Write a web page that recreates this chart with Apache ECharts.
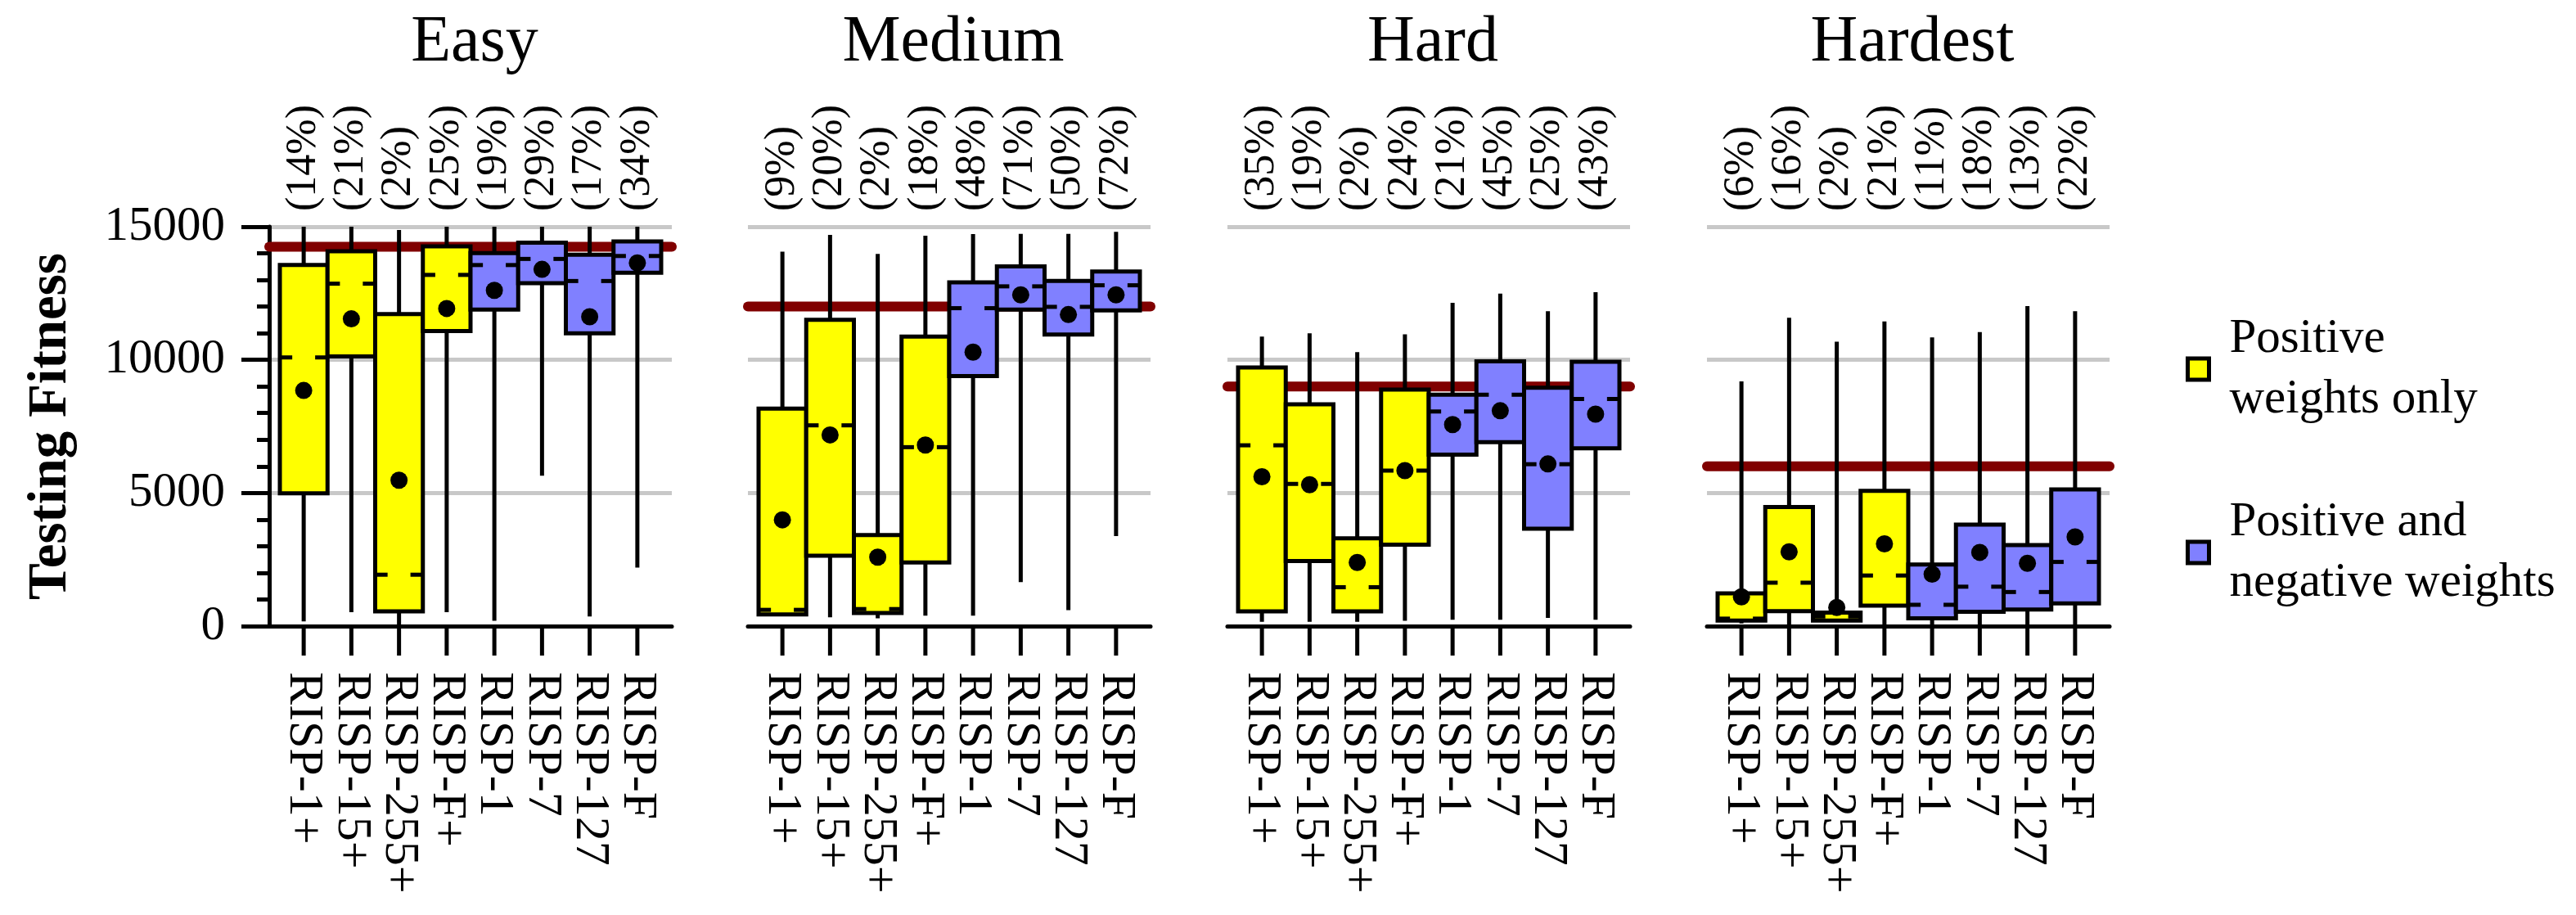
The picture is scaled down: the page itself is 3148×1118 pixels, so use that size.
<!DOCTYPE html>
<html>
<head>
<meta charset="utf-8">
<script src="https://cdn.jsdelivr.net/npm/echarts@6/dist/echarts.min.js"></script>
<style>html,body{margin:0;padding:0;background:#fff}#chart{width:3148px;height:1118px}</style>
</head>
<body>
<div id="chart"></div>
<script>
const panelNames = ['Easy', 'Medium', 'Hard', 'Hardest'];
const categories = ['RISP-1+', 'RISP-15+', 'RISP-255+', 'RISP-F+', 'RISP-1', 'RISP-7', 'RISP-127', 'RISP-F'];
const yTickValues = [0, 5000, 10000, 15000];
const seriesNames = ['Positive weights only', 'Positive and negative weights'];
const legendLabels = ['Positive\nweights only', 'Positive and\nnegative weights'];

const easyMin    = [180, 520, 0, 520, 200, 5650, 360, 2200];
const easyQ1     = [4990, 10130, 550, 11080, 11890, 12880, 11000, 13270];
const easyMedian = [10090, 12860, 1930, 13190, 13560, 13790, 12960, 13900];
const easyQ3     = [13560, 14080, 11720, 14260, 14010, 14400, 13950, 14450];
const easyMax    = [15000, 15000, 14880, 15000, 15000, 15000, 15000, 15000];
const easyMean   = [8850, 11540, 5480, 11930, 12610, 13400, 11620, 13640];
const easyPct    = [14, 21, 2, 25, 19, 29, 17, 34];
const easyBest   = 14250;

const mediumMin    = [420, 330, 290, 390, 390, 1650, 600, 3380];
const mediumQ1     = [440, 2640, 490, 2390, 9390, 11890, 10950, 11860];
const mediumMedian = [610, 7540, 640, 6720, 11940, 12760, 11990, 12800];
const mediumQ3     = [8170, 11500, 3420, 10870, 12910, 13510, 12960, 13320];
const mediumMax    = [14060, 14690, 13980, 14660, 14720, 14730, 14730, 14810];
const mediumMean   = [3990, 7180, 2590, 6800, 10290, 12440, 11700, 12440];
const mediumPct    = [9, 20, 2, 18, 48, 71, 50, 72];
const mediumBest   = 12000;

const hardMin    = [160, 160, 160, 200, 240, 240, 310, 240];
const hardQ1     = [550, 2440, 550, 3060, 6440, 6910, 3660, 6680];
const hardMedian = [6790, 5340, 1460, 5840, 8060, 8690, 6080, 8530];
const hardQ3     = [9710, 8330, 3300, 8880, 8690, 9940, 8950, 9930];
const hardMax    = [10870, 11000, 10290, 10960, 12140, 12490, 11830, 12540];
const hardMean   = [5610, 5310, 2390, 5840, 7570, 8090, 6090, 7960];
const hardPct    = [35, 19, 2, 24, 21, 45, 25, 43];
const hardBest   = 9000;

const hardestMin    = [100, 50, 150, 50, 50, 50, 50, 50];
const hardestQ1     = [210, 560, 210, 770, 290, 540, 620, 850];
const hardestMedian = [280, 1630, 360, 1900, 800, 1480, 1280, 2410];
const hardestQ3     = [1230, 4470, 510, 5080, 2310, 3810, 3040, 5130];
const hardestMax    = [9190, 11580, 10680, 11440, 10840, 11040, 12020, 11830];
const hardestMean   = [1100, 2790, 700, 3090, 1950, 2770, 2360, 3350];
const hardestPct    = [6, 16, 2, 21, 11, 18, 13, 22];
const hardestBest   = 6000;

const panels = [
  {min: easyMin, q1: easyQ1, med: easyMedian, q3: easyQ3, max: easyMax, mean: easyMean, pct: easyPct, best: easyBest},
  {min: mediumMin, q1: mediumQ1, med: mediumMedian, q3: mediumQ3, max: mediumMax, mean: mediumMean, pct: mediumPct, best: mediumBest},
  {min: hardMin, q1: hardQ1, med: hardMedian, q3: hardQ3, max: hardMax, mean: hardMean, pct: hardPct, best: hardBest},
  {min: hardestMin, q1: hardestQ1, med: hardestMedian, q3: hardestQ3, max: hardestMax, mean: hardestMean, pct: hardestPct, best: hardestBest}
];

const FONT = "'Liberation Serif', 'DejaVu Serif', serif";
const gridLefts = [329, 914, 1500, 2086];
const gridWidth = 492;
const innerPad = 13;
const gridTop = 277;
const gridHeight = 488;
const colors = ['#ffff00', '#8080ff'];
const TICK_LEN = 36;
const N = panels.length;
const yMin = yTickValues[0], yMax = yTickValues[yTickValues.length - 1];
// the inner (box) grid reaches TICK_LEN px below the plot so the category ticks lie inside it
const innerYMin = yMin - (yMax - yMin) * TICK_LEN / gridHeight;

function renderBox(params, api) {
  const x = api.value(0);
  const lo = api.coord([x, api.value(1)]);
  const q1 = api.coord([x, api.value(2)]);
  const med = api.coord([x, api.value(3)]);
  const q3 = api.coord([x, api.value(4)]);
  const hi = api.coord([x, api.value(5)]);
  const mean = api.coord([x, api.value(6)]);
  const w = api.size([1, 0])[0];
  const cx = lo[0];
  const half = w / 2;
  const dash = w * 0.26;
  const fill = api.visual('color');
  const ls = {stroke: '#000', lineWidth: 5};
  return {
    type: 'group',
    children: [
      {type: 'line', shape: {x1: cx, y1: hi[1], x2: cx, y2: lo[1]}, style: ls},
      {type: 'rect', shape: {x: cx - half, y: q3[1], width: w, height: q1[1] - q3[1]}, style: {fill: fill, stroke: '#000', lineWidth: 5}},
      {type: 'line', shape: {x1: cx - half, y1: med[1], x2: cx - half + dash, y2: med[1]}, style: ls},
      {type: 'line', shape: {x1: cx + half - dash, y1: med[1], x2: cx + half, y2: med[1]}, style: ls},
      {type: 'circle', shape: {cx: cx, cy: mean[1], r: 10.5}, style: {fill: '#000'}}
    ]
  };
}

// category tick marks: from value 0 down to the inner axis minimum
function renderTick(params, api) {
  const top = api.coord([api.value(0), yMin]);
  const bottom = api.coord([api.value(0), innerYMin]);
  return {type: 'rect', shape: {x: top[0] - 2.5, y: top[1], width: 5, height: bottom[1] - top[1]}, style: {fill: '#000'}};
}

const grids = [], xAxes = [], yAxes = [], series = [], titles = [];

// outer grids (0..N-1): frame, grey gridlines, y axis, reference line
panels.forEach((p, i) => {
  grids.push({left: gridLefts[i], top: gridTop, width: gridWidth, height: gridHeight});
  titles.push({
    text: panelNames[i], left: gridLefts[i] + gridWidth / 2, top: 8, textAlign: 'center',
    textStyle: {fontSize: 80, fontWeight: 'normal', fontFamily: FONT, color: '#000'}
  });
  xAxes.push({
    type: 'value', gridIndex: i, min: 0, max: 1, position: 'bottom', z: 5,
    axisLine: {show: true, onZero: false, lineStyle: {color: '#000', width: 5}},
    axisTick: {show: false}, axisLabel: {show: false}, splitLine: {show: false}
  });
  const first = i === 0;
  yAxes.push({
    type: 'value', gridIndex: i, min: yMin, max: yMax, interval: 5000,
    name: first ? 'Testing Fitness' : '', nameLocation: 'middle', nameGap: 233,
    nameTextStyle: {fontSize: 67, fontWeight: 'bold', fontFamily: FONT, color: '#000'},
    axisLine: {show: first, onZero: false, lineStyle: {color: '#000', width: 5}},
    axisTick: {show: first, length: 34, lineStyle: {color: '#000', width: 5}},
    minorTick: {show: first, splitNumber: 5, length: 15, lineStyle: {color: '#000', width: 5}},
    axisLabel: {show: first, margin: 54, fontSize: 59, fontFamily: FONT, color: '#000', formatter: v => String(v)},
    splitLine: {show: true, lineStyle: {color: '#c8c8c8', width: 5}}
  });
  series.push({
    type: 'line', name: 'best-' + i, xAxisIndex: i, yAxisIndex: i, z: 1, silent: true,
    symbol: 'none', data: [[0, p.best], [1, p.best]],
    lineStyle: {color: '#800000', width: 12, cap: 'round'},
    emphasis: {disabled: true}
  });
});

// inner grids (N..2N-1): category band layout for the boxes, their ticks and labels
panels.forEach((p, i) => {
  const gi = N + i;
  grids.push({left: gridLefts[i] + innerPad, top: gridTop, width: gridWidth - 2 * innerPad, height: gridHeight + TICK_LEN});
  const bottomIdx = xAxes.length;
  xAxes.push({
    type: 'category', gridIndex: gi, data: categories, position: 'bottom', boundaryGap: true,
    axisLine: {show: false, onZero: false},
    axisTick: {show: false},
    axisLabel: {interval: 0, rotate: -90, margin: 20, fontSize: 60, fontFamily: FONT, color: '#000'},
    splitLine: {show: false}
  });
  xAxes.push({
    type: 'category', gridIndex: gi, data: p.pct.map(v => '(' + v + '%)'), position: 'top', boundaryGap: true,
    axisLine: {show: false}, axisTick: {show: false},
    axisLabel: {interval: 0, rotate: 90, margin: 19, fontSize: 52, fontFamily: FONT, color: '#000'},
    splitLine: {show: false}
  });
  const yIdx = yAxes.length;
  yAxes.push({type: 'value', gridIndex: gi, min: innerYMin, max: yMax, show: false});
  series.push({
    type: 'custom', name: 'ticks-' + i, xAxisIndex: bottomIdx, yAxisIndex: yIdx, z: 6, silent: true,
    renderItem: renderTick,
    encode: {x: 0, y: 1},
    data: categories.map((c, k) => [k, yMin])
  });
  [0, 1].forEach(g => {
    const data = [];
    categories.forEach((c, k) => {
      if ((k < 4 ? 0 : 1) === g) data.push([k, p.min[k], p.q1[k], p.med[k], p.q3[k], p.max[k], p.mean[k]]);
    });
    series.push({
      type: 'custom', name: seriesNames[g], xAxisIndex: bottomIdx, yAxisIndex: yIdx, z: 3,
      itemStyle: {color: colors[g]},
      renderItem: renderBox,
      encode: {x: 0, y: [1, 2, 3, 4, 5, 6]},
      data: data
    });
  });
});

const chart = echarts.init(document.getElementById('chart'));
chart.setOption({
  animation: false,
  backgroundColor: '#fff',
  textStyle: {fontFamily: FONT},
  title: titles,
  grid: grids,
  xAxis: xAxes,
  yAxis: yAxes,
  legend: {
    orient: 'vertical', left: 2666, top: 372, icon: 'rect', itemWidth: 26, itemHeight: 26, itemGap: 76,
    selectedMode: false,
    data: seriesNames,
    itemStyle: {borderColor: '#000', borderWidth: 5},
    formatter: name => legendLabels[seriesNames.indexOf(name)],
    textStyle: {fontSize: 59, lineHeight: 74, fontFamily: FONT, color: '#000', padding: [0, 0, 0, 20]}
  },
  series: series
});
</script>
</body>
</html>
